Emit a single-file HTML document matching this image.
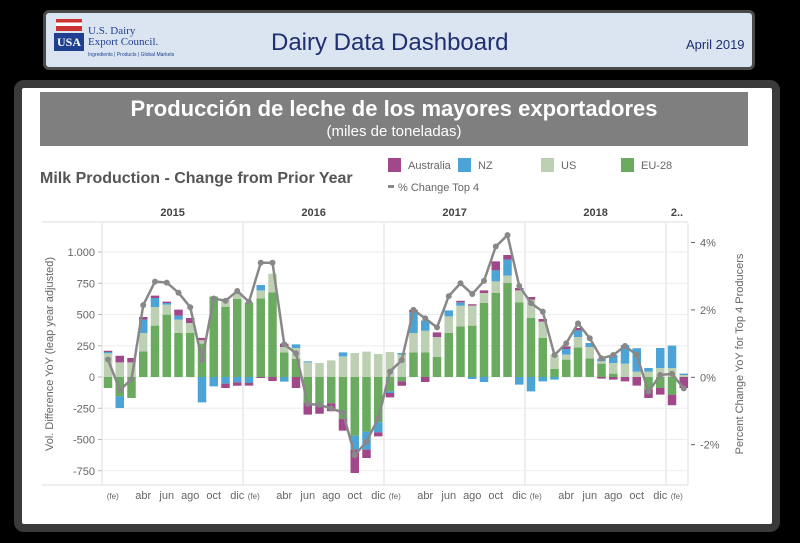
<!DOCTYPE html>
<html><head><meta charset="utf-8">
<style>
body{margin:0;width:800px;height:543px;background:#000;overflow:hidden;font-family:"Liberation Sans",sans-serif;position:relative}
#hdr{position:absolute;left:43px;top:10px;width:712px;height:60px;background:#dbe5f1;border:3px solid #4a4a4a;border-radius:6px;box-sizing:border-box}
#panel{position:absolute;left:14px;top:80px;width:766px;height:452px;background:#fff;border:8px solid #3a3a3a;border-radius:10px;box-sizing:border-box}
#tbar{position:absolute;left:40px;top:92px;width:708px;height:54px;background:#7f7f7f}
</style></head><body>
<div id="hdr">
 <div style="position:absolute;left:8px;top:20px;width:30px;height:18px;background:#1f3f8f;color:#fff;font:bold 12px 'Liberation Serif',serif;text-align:center;line-height:18px">USA</div>
 <div style="position:absolute;left:10px;top:6px;width:26px;height:12px;background:linear-gradient(#c33 0 30%,#fff 30% 60%,#c33 60%)"></div>
 <div style="position:absolute;left:42px;top:13px;font:11px 'Liberation Serif',serif;color:#1f3f8f;line-height:11px">U.S. Dairy<br>Export Council.</div>
 <div style="position:absolute;left:42px;top:39px;font:5px 'Liberation Sans',sans-serif;color:#1f3f8f">Ingredients | Products | Global Markets</div>
 <div style="position:absolute;left:225px;top:16px;font-size:24px;color:#1f2f6f">Dairy Data Dashboard</div>
 <div style="position:absolute;left:640px;top:24px;font-size:13px;color:#1f2f6f">April 2019</div>
</div>
<div id="panel"></div>
<div id="tbar">
 <div style="position:absolute;left:0;width:100%;top:4px;text-align:center;color:#fff;font-size:22px;font-weight:bold">Producción de leche de los mayores exportadores</div>
 <div style="position:absolute;left:0;width:100%;top:31px;text-align:center;color:#fff;font-size:15px">(miles de toneladas)</div>
</div>
<svg id="chart" width="800" height="543" style="position:absolute;left:0;top:0"></svg>
<script>
const months=['ene','fe','mar','abr','may','jun','jul','ago','sep','oct','nov','dic'];
const years=['2015','2016','2017','2018','2..'];
const eu=[-88,-155,-168,205,411,499,352,352,267,640,560,624,597,629,677,197,144,-208,-235,-210,-336,-469,-437,-363,
 -115,-35,197,197,160,352,405,411,592,672,752,597,472,312,64,139,237,149,107,27,0,0,-101,-88,-141,0];
const us=[190,117,117,147,149,80,107,80,27,8,59,43,0,64,149,43,88,117,112,133,165,192,203,184,
 200,179,155,173,160,133,165,160,80,93,59,96,147,131,112,40,83,91,19,85,107,43,43,72,72,16];
const nz=[10,-93,0,107,72,13,32,0,-203,-75,-53,-43,-48,43,0,-37,29,8,0,0,32,-112,-144,-80,
 -13,13,165,83,0,48,27,-16,-40,88,128,-61,-115,-35,-21,45,53,32,19,64,149,187,29,160,179,11];
const au=[10,53,35,21,19,11,48,40,19,0,-35,-27,-21,-8,-32,27,-88,-93,-59,-64,-93,-187,-67,-32,
 -35,-35,21,-40,37,0,13,11,21,72,37,19,21,21,0,21,19,0,-13,-21,-35,-69,-67,-53,-85,-88];
const pct=[0.53,-0.38,-0.06,2.14,2.84,2.81,2.51,2.08,0.51,2.34,2.27,2.56,2.24,3.40,3.40,0.98,0.71,-0.79,-0.82,-0.92,-1.05,-2.31,-1.91,-1.22,
 0.17,0.51,2.0,1.75,1.48,2.41,2.79,2.47,2.86,3.88,4.22,2.71,2.2,1.95,0.66,1.01,1.6,1.16,0.56,0.66,0.93,0.66,-0.43,0.07,0.1,-0.33];
const leftTicks=[1000,750,500,250,0,-250,-500,-750];
const leftLabels=['1.000','750','500','250','0','-250','-500','-750'];
const rightTicks=[4,2,0,-2];
const NS='http://www.w3.org/2000/svg';
const svg=document.getElementById('chart');
const X0=102,X1=688,PT=223,PB=485,step=11.75,bw=8.5;
const xC=i=>X0+6+i*step;
const yL=v=>377-v*0.125;
const yR=p=>377.3-p*33.7;
function mk(t,a,txt){const e=document.createElementNS(NS,t);for(const k in a)e.setAttribute(k,a[k]);if(txt!==undefined)e.textContent=txt;svg.appendChild(e);return e;}
let e;
e=mk('text',{x:40,y:183,'font-size':16,'font-weight':'bold',fill:'#555'},'Milk Production - Change from Prior Year');


const leg=[['Australia','#a0488a',388],['NZ','#4ba3d6',458],['US','#bdd0b3',541],['EU-28','#6aab5f',621]];
leg.forEach(l=>{
 e=mk('rect',{x:l[2],y:158,width:13,height:14,fill:l[1]});
 
 
 e=mk('text',{x:l[2]+20,y:169,'font-size':11,fill:'#666'},l[0]);
 
 
});
e=mk('rect',{x:388,y:185,width:6,height:3,fill:'#888'});


e=mk('text',{x:398,y:191,'font-size':11,fill:'#666'},'% Change  Top 4');


// year headers
years.forEach((y,k)=>{
 const s=xC(k*12)-6, en=Math.min(xC(k*12+11)+6,X1);
 e=mk('text',{x:(s+en)/2,y:216,'font-size':11,'font-weight':'bold',fill:'#444','text-anchor':'middle'},y);
 
 
 if(k>0){e=mk('line',{x1:s,x2:s,y1:PT,y2:PB,stroke:'#ddd'});
 
 }
});
mk('line',{x1:X0-60,x2:X1,y1:PT-1,y2:PT-1,stroke:'#ddd'});
mk('line',{x1:X0,x2:X0,y1:PT,y2:PB,stroke:'#ddd'});
mk('line',{x1:X1,x2:X1,y1:PT,y2:PB,stroke:'#ddd'});
mk('line',{x1:X0-60,x2:X1,y1:PB,y2:PB,stroke:'#ddd'});
leftTicks.forEach((v,i)=>{
 e=mk('line',{x1:X0,x2:X1,y1:yL(v),y2:yL(v),stroke:'#eee'});
 
 
 mk('line',{x1:X0-4,x2:X0,y1:yL(v),y2:yL(v),stroke:'#bbb'});
 e=mk('text',{x:X0-7,y:yL(v)+4,'font-size':11,fill:'#666','text-anchor':'end'},leftLabels[i]);
 
 
});
rightTicks.forEach(p=>{
 mk('line',{x1:X1+3,x2:X1+7,y1:yR(p),y2:yR(p),stroke:'#666'});
 e=mk('text',{x:X1+12,y:yR(p)+4,'font-size':11,fill:'#666'},p+'%');
 
 
});
e=mk('text',{x:0,y:0,'font-size':11,fill:'#666','text-anchor':'middle',transform:'translate(53,354) rotate(-90)'},'Vol. Difference YoY (leap year adjusted)');


e=mk('text',{x:0,y:0,'font-size':11,fill:'#666','text-anchor':'middle',transform:'translate(743,354) rotate(-90)'},'Percent Change YoY for Top 4 Producers');


// month labels
for(let i=0;i<eu.length;i++){
 const m=i%12;
 if(m%2===1){
  e=mk('text',{x:xC(i)-(m===1?7:0),y:499,'font-size':m===1?8:11,fill:'#666','text-anchor':'middle'},m===1?'(fe)':months[m]);
  
  
 }
}
// bars
const series=[['eu',eu,'#6aab5f'],['us',us,'#bdd0b3'],['nz',nz,'#4ba3d6'],['au',au,'#a0488a']];
for(let i=0;i<eu.length;i++){
 let pos=0,neg=0;
 series.forEach(s=>{
  const v=s[1][i]; if(!v)return;
  let a,b;
  if(v>0){a=pos;b=pos+v;pos=b;}else{a=neg;b=neg+v;neg=b;}
  const y1=yL(Math.max(a,b)),y2=yL(Math.min(a,b));
  e=mk('rect',{x:xC(i)-bw/2,y:y1,width:bw,height:y2-y1,fill:s[2]});
  
  
 });
}
// line
e=mk('polyline',{points:pct.map((p,i)=>xC(i)+','+yR(p)).join(' '),fill:'none',stroke:'#888','stroke-width':2.5});


pct.forEach((p,i)=>{
 e=mk('circle',{cx:xC(i),cy:yR(p),r:3,fill:'#888'});
 
 
});
</script>
</body></html>
